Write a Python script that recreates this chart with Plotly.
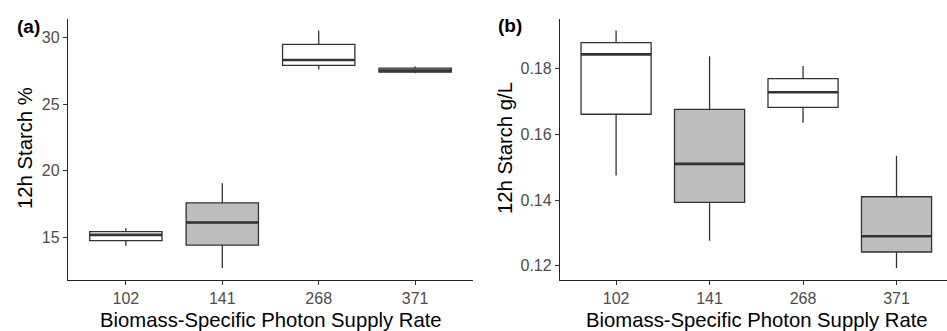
import plotly.graph_objects as go

categories = ["102", "141", "268", "371"]
fills = ["white", "#BEBEBE", "white", "#BEBEBE"]

# Panel (a): 12h Starch %
a_low = [14.35, 12.67, 27.60, 27.33]
a_q1 = [14.74, 14.40, 27.92, 27.41]
a_med = [15.17, 16.10, 28.32, 27.53]
a_q3 = [15.42, 17.58, 29.50, 27.71]
a_high = [15.68, 19.06, 30.55, 27.83]

# Panel (b): 12h Starch g/L
b_low = [0.1475, 0.1276, 0.1635, 0.1193]
b_q1 = [0.1661, 0.1393, 0.1682, 0.1242]
b_med = [0.1843, 0.1510, 0.1728, 0.1290]
b_q3 = [0.1879, 0.1676, 0.1769, 0.1410]
b_high = [0.1916, 0.1837, 0.1808, 0.1535]

a_ticks = [15, 20, 25, 30]
b_ticks = [0.12, 0.14, 0.16, 0.18]

BOXW = 0.75
LINE = "#333333"
FONT = "Liberation Sans, Arial, sans-serif"

fig = go.Figure()
positions = list(range(len(categories)))


def add_panel(low, q1, med, q3, high, xa, ya):
    for i, pos in enumerate(positions):
        fig.add_trace(go.Box(
            x=[pos], q1=[q1[i]], median=[med[i]], q3=[q3[i]],
            lowerfence=[low[i]], upperfence=[high[i]],
            width=BOXW, whiskerwidth=0, fillcolor=fills[i],
            line=dict(color=LINE, width=1.3), boxpoints=False,
            xaxis=xa, yaxis=ya, showlegend=False, hoverinfo="skip"))
        fig.add_trace(go.Scatter(
            x=[pos - BOXW / 2, pos + BOXW / 2], y=[med[i], med[i]],
            mode="lines", line=dict(color=LINE, width=2.6),
            xaxis=xa, yaxis=ya, showlegend=False, hoverinfo="skip"))


add_panel(a_low, a_q1, a_med, a_q3, a_high, "x", "y")
add_panel(b_low, b_q1, b_med, b_q3, b_high, "x2", "y2")

W, H = 947, 331
ydom = [(H - 280) / H, (H - 18.5) / H]

axis_common = dict(
    showline=True, linecolor="#222222", linewidth=1.3, ticks="outside",
    ticklen=4, tickwidth=1, tickcolor="#333333", showgrid=False, zeroline=False,
    tickfont=dict(family=FONT, size=16, color="#4D4D4D"), mirror=False,
)


def yrange(low, high):
    lo, hi = min(low), max(high)
    pad = (hi - lo) * 0.05
    return [lo - pad, hi + pad]


fig.update_layout(
    width=W, height=H, margin=dict(l=0, r=0, t=0, b=0),
    paper_bgcolor="white", plot_bgcolor="white", boxmode="overlay",
    font=dict(family=FONT),
    xaxis=dict(domain=[68 / W, 473 / W], range=[-0.6, 3.6], tickvals=positions,
               ticktext=categories, anchor="y", **axis_common),
    yaxis=dict(domain=ydom, range=yrange(a_low, a_high), tickvals=a_ticks,
               anchor="x", **axis_common),
    xaxis2=dict(domain=[560 / W, 1.0], range=[-0.6, 3.54], tickvals=positions,
                ticktext=categories, anchor="y2", **axis_common),
    yaxis2=dict(domain=ydom, range=yrange(b_low, b_high), tickvals=b_ticks,
                tickformat=".2f", anchor="x2", **axis_common),
)

title_font = dict(family=FONT, size=20.3, color="black")
ann = [
    dict(text="Biomass-Specific Photon Supply Rate", x=271 / W, y=(H - 320) / H,
         xref="paper", yref="paper", showarrow=False, font=title_font,
         xanchor="center", yanchor="middle"),
    dict(text="Biomass-Specific Photon Supply Rate", x=757 / W, y=(H - 320) / H,
         xref="paper", yref="paper", showarrow=False, font=title_font,
         xanchor="center", yanchor="middle"),
    dict(text="12h Starch %", x=25 / W, y=(H - 148) / H, textangle=-90,
         xref="paper", yref="paper", showarrow=False, font=title_font,
         xanchor="center", yanchor="middle"),
    dict(text="12h Starch g/L", x=505 / W, y=(H - 148) / H, textangle=-90,
         xref="paper", yref="paper", showarrow=False, font=title_font,
         xanchor="center", yanchor="middle"),
    dict(text="<b>(a)</b>", x=28 / W, y=(H - 26) / H, xref="paper", yref="paper",
         showarrow=False, font=dict(family=FONT, size=19, color="black"),
         xanchor="center", yanchor="middle"),
    dict(text="<b>(b)</b>", x=510 / W, y=(H - 25) / H, xref="paper", yref="paper",
         showarrow=False, font=dict(family=FONT, size=19, color="black"),
         xanchor="center", yanchor="middle"),
]
fig.update_layout(annotations=ann)

fig.write_html("out.html")
